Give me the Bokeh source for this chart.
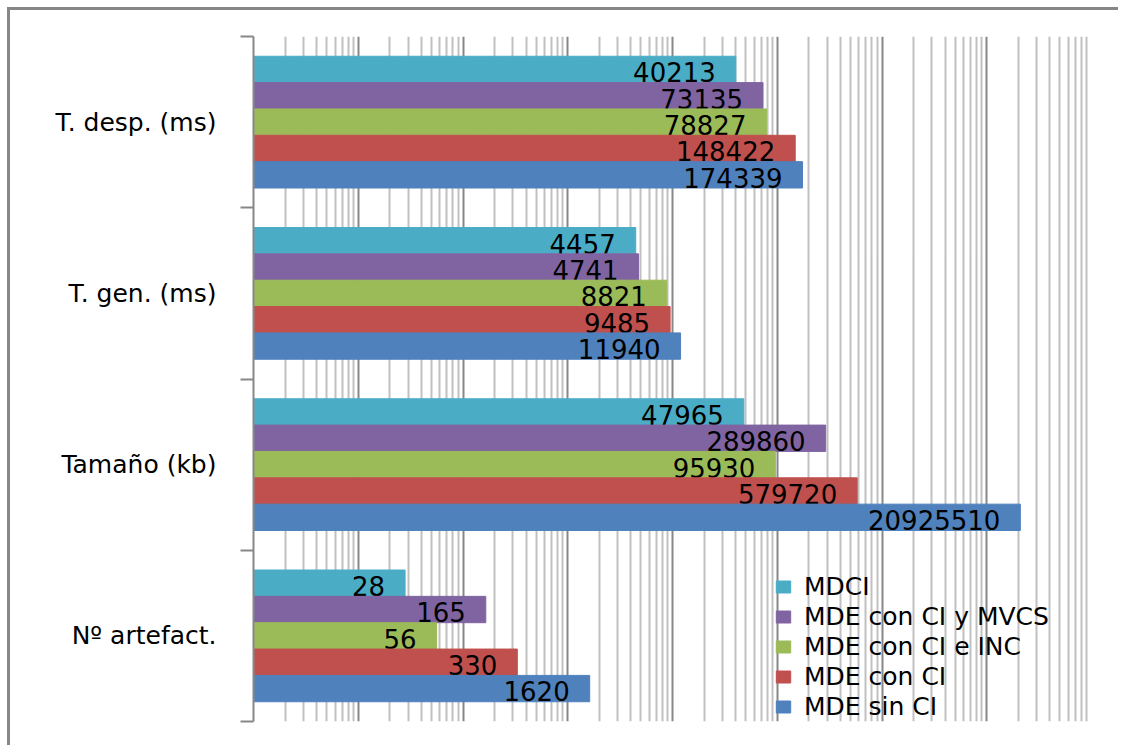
from bokeh.plotting import figure
from bokeh.models import Range1d, FixedTicker, Legend, LegendItem, ColumnDataSource
from bokeh.embed import file_html
from bokeh.resources import INLINE
from bokeh.core.properties import value

# ---- data ----
categories = ["Nº artefact.", "Tamaño (kb)", "T. gen. (ms)", "T. desp. (ms)"]  # bottom -> top
series_names = ["MDCI", "MDE con CI y MVCS", "MDE con CI e INC", "MDE con CI", "MDE sin CI"]
series_colors = ["#4BACC6", "#8064A2", "#9BBB59", "#C0504D", "#4F81BD"]
mdci = [28, 47965, 4457, 40213]
mde_ci_mvcs = [165, 289860, 4741, 73135]
mde_ci_inc = [56, 95930, 8821, 78827]
mde_ci = [330, 579720, 9485, 148422]
mde_sin_ci = [1620, 20925510, 11940, 174339]
series_values = [mdci, mde_ci_mvcs, mde_ci_inc, mde_ci, mde_sin_ci]

FONT = "DejaVu Sans"

p = figure(
    x_axis_type="log",
    x_range=Range1d(1, 1e8),
    y_range=Range1d(0, len(categories)),
    frame_width=838, frame_height=685,
    min_border_left=243, min_border_top=26, min_border_right=30, min_border_bottom=27,
    output_backend="svg", toolbar_location=None,
)
# outer chart border on the left and top edges
p.margin = (10, 0, 0, 10)
p.styles = {"box-shadow": "-3px -3px 0px 0px #878787"}
p.outline_line_color = None
p.background_fill_color = "white"

# grid (log decades + minor 2..9)
decades = [10 ** k for k in range(0, 9)]
minors = [m * 10 ** k for k in range(0, 8) for m in range(2, 10)]
p.xaxis.visible = False
p.xgrid.ticker = FixedTicker(ticks=decades, minor_ticks=minors)
p.xgrid.grid_line_color = "#878787"
p.xgrid.grid_line_width = 2
p.xgrid.minor_grid_line_color = "#C0C0C0"
p.xgrid.minor_grid_line_width = 2
p.ygrid.visible = False

# y axis: labels at centres, tick marks at boundaries
ya = p.yaxis[0]
ya.ticker = FixedTicker(ticks=[i + 0.5 for i in range(len(categories))],
                        minor_ticks=list(range(len(categories) + 1)))
ya.major_label_overrides = {i + 0.5: c for i, c in enumerate(categories)}
ya.major_tick_line_color = None
ya.major_tick_out = 0
ya.major_tick_in = 0
ya.minor_tick_line_color = "#878787"
ya.minor_tick_line_width = 2
ya.minor_tick_out = 13
ya.minor_tick_in = 0
ya.axis_line_color = "#878787"
ya.axis_line_width = 2
ya.major_label_standoff = 24
ya.major_label_text_font = FONT
ya.major_label_text_font_size = "25px"
ya.major_label_text_color = "black"

n = len(series_names)
bw = 1.0 / (n + 1.5)
items = []
for j, (name, col, vals) in enumerate(zip(series_names, series_colors, series_values)):
    ys = [i + 1 - 0.75 * bw - (j + 0.5) * bw for i in range(len(categories))]
    src = ColumnDataSource(dict(y=ys, right=vals, left=[1] * len(vals),
                                lab=[str(v) for v in vals],
                                ty=[y - 0.017 for y in ys]))
    r = p.hbar(y="y", left="left", right="right", height=bw, source=src,
               fill_color=col, line_color=col, line_width=1)
    p.text(x="right", y="ty", text="lab", source=src, text_align="right",
           text_baseline="middle", x_offset=-20, text_font=value(FONT),
           text_font_size="26px", text_color="black")
    items.append(LegendItem(label=name, renderers=[r]))

legend = Legend(items=items, location=(521, 0), padding=0, margin=0,
                border_line_color=None, background_fill_alpha=0,
                glyph_width=18, glyph_height=15, label_standoff=12,
                label_height=27, spacing=1,
                label_text_font=FONT, label_text_font_size="25px",
                label_text_color="black")
p.add_layout(legend)

open("out.html", "w").write(file_html(p, INLINE))
